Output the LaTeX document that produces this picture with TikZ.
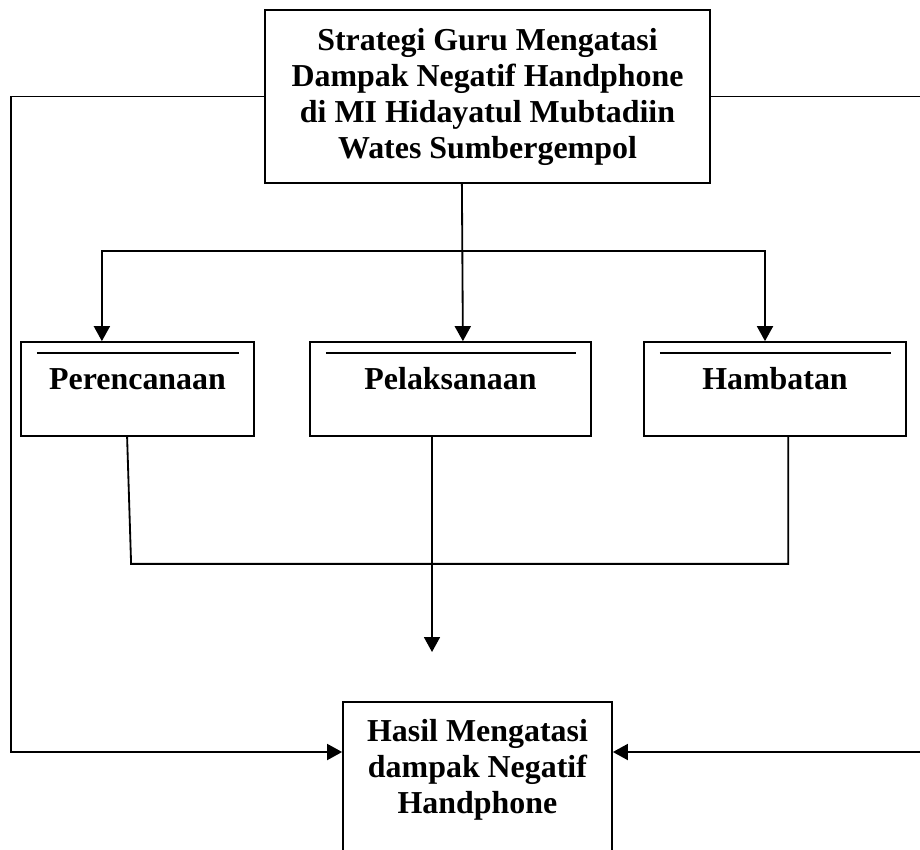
\documentclass[tikz,border=0pt]{standalone}
\usepackage{fontspec}
\setmainfont{Liberation Serif}
\usetikzlibrary{arrows.meta}
\tikzset{
  box/.style={draw, line width=1.2pt, inner sep=0pt,
    font=\fontsize{22.7}{25.6}\selectfont\bfseries},
  stepbox/.style={box, minimum height=2.35cm, text height=0.55cm, text depth=0.55cm},
  arr/.style={line width=1.3pt, -{Triangle[length=0.375cm,width=0.4cm]}},
  link/.style={line width=1.3pt}
}
\begin{document}
\begin{tikzpicture}[x=0.025cm, y=-0.025cm]
    \useasboundingbox (0,0) rectangle (920,849);
    % boxes
    \node[box, align=center, minimum width=11.125cm, minimum height=4.325cm] (strat) at (487.5,96.5)
      {Strategi Guru Mengatasi\\Dampak Negatif Handphone\\di MI Hidayatul Mubtadiin\\Wates Sumbergempol};
    \node[stepbox, minimum width=5.825cm] (pere) at (137.5,389) {Perencanaan};
    \node[stepbox, minimum width=7.025cm] (pela) at (450.5,389) {Pelaksanaan};
    \node[stepbox, minimum width=6.55cm]  (hamb) at (775,389)   {Hambatan};
    \node[box, anchor=north, inner ysep=0.43cm, minimum width=6.725cm] (hasil) at (477.5,701)
      {\parbox[t][5cm][t]{6.5cm}{\centering Hasil Mengatasi\\dampak Negatif\\Handphone}};
    \foreach \n in {pere,pela,hamb}
      \draw[link] ([shift={(0.42cm,-0.3cm)}]\n.north west) -- ([shift={(-0.4cm,-0.3cm)}]\n.north east);
    % connectors
    \coordinate (branch) at (462,251);
    \coordinate (merge) at (432,652);
    \coordinate (lbend) at (11,752);
    \coordinate (rbend) at (923,752);
    \draw[arr] ([xshift=-0.64cm]strat.south) -- ([xshift=0.31cm]pela.north);
    \draw[arr] (branch) -| ([xshift=-0.89cm]pere.north);
    \draw[arr] (branch) -| ([xshift=-0.25cm]hamb.north);
    \draw[link] ([xshift=-0.26cm]pere.south) -- ++(4,127) -| ([xshift=0.33cm]hamb.south);
    \draw[arr] (pela.south -| merge) -- (merge);
    \draw[arr] (strat.west) -| (lbend) -- (lbend -| hasil.west);
    \draw[arr] (strat.east) -| (rbend) -- (rbend -| hasil.east);
\end{tikzpicture}
\end{document}
